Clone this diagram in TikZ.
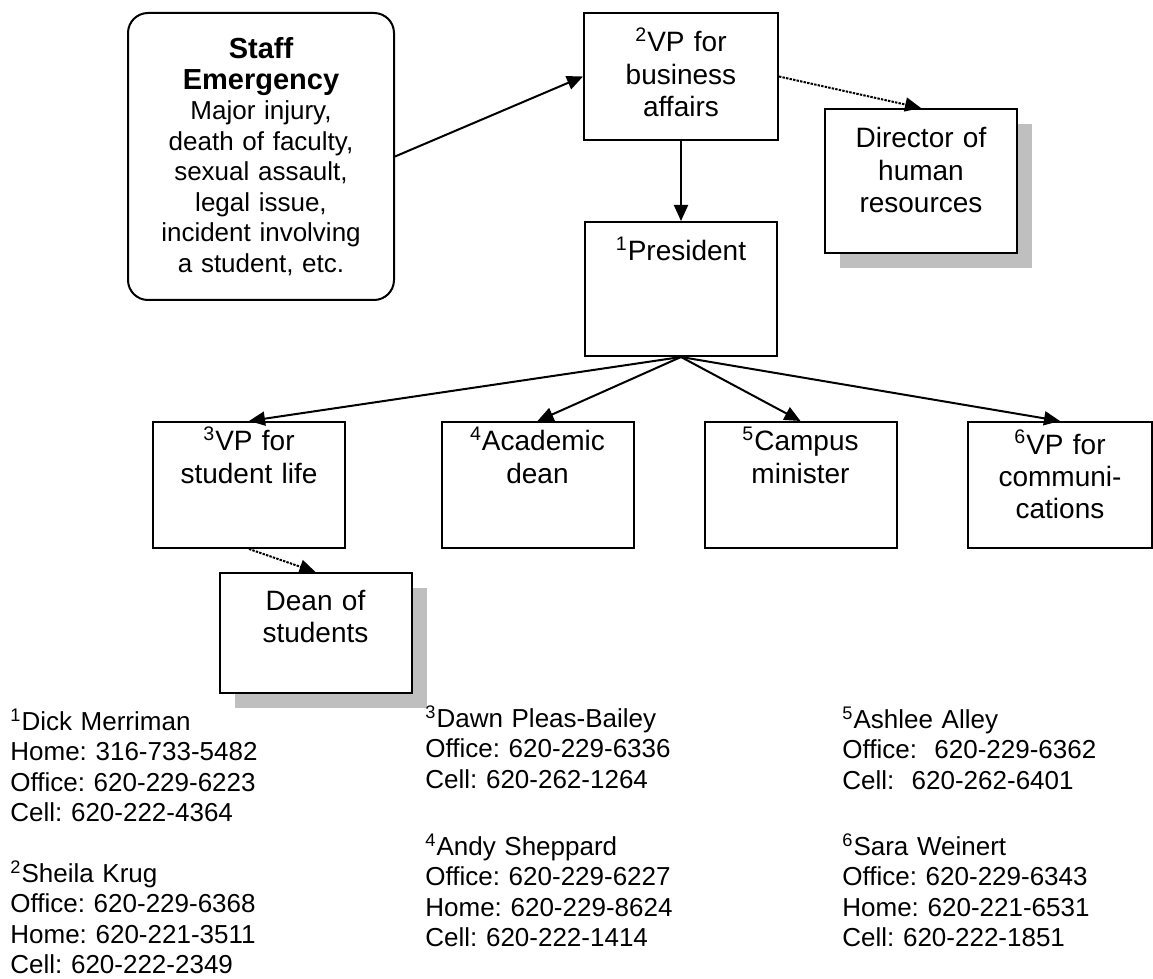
\documentclass[tikz,border=0pt]{standalone}
\usepackage{fontspec}
\setmainfont{Liberation Sans}
\usetikzlibrary{arrows.meta,shadows}
\frenchspacing
\newcommand{\boxfont}{\fontsize{14pt}{16.2pt}\selectfont}
\newcommand{\listfont}{\fontsize{13pt}{15.25pt}\selectfont}
\newcommand{\headfont}{\fontsize{14.5pt}{16pt}\selectfont\bfseries}
\newcommand{\supnum}[1]{\textsuperscript{#1}}
\begin{document}
\begin{tikzpicture}[x=0.5pt, y=-0.5pt,
  post/.style={draw, line width=1pt, fill=white, inner sep=0pt, align=center, text width=96pt, font=\boxfont, text height=19.5pt},
  call/.style={draw, line width=1pt, rounded corners=10pt, inner sep=0pt, align=center, text width=133pt, minimum height=143.5pt, font=\listfont},
  shade/.style={drop shadow={shadow xshift=7.5pt, shadow yshift=-7.5pt, fill=black!25, opacity=1}},
  who/.style={anchor=base west, inner sep=0pt, align=left, text width=200pt, font=\listfont},
  arr/.style={-{Triangle[length=8pt,width=7pt]}, line width=1pt},
  dotarr/.style={arr, dash pattern=on 1.2pt off 0.6pt}]
\useasboundingbox (0,0) rectangle (1153,979);
\node[call] (staff) at (261,156.5) {{\headfont Staff}\\{\headfont Emergency}\\Major injury,\\death of faculty,\\sexual assault,\\legal issue,\\incident involving\\a student, etc.};
\node[post, text width=97pt, text depth=44pt] (biz) at (681,76.5) {\supnum{2}VP for\\business\\affairs};
\node[post, shade, text depth=52.5pt] (hr) at (921,181) {Director of\\human\\resources};
\node[post, text depth=47.5pt] (pres) at (681,289) {\supnum{1}President};
\node[post, text height=14.5pt, text depth=48.5pt] (stu) at (249,485) {\supnum{3}VP for\\student life};
\node[post, text height=14.5pt, text depth=48.5pt] (acad) at (537.5,485) {\supnum{4}Academic\\dean};
\node[post, text height=14.5pt, text depth=48.5pt] (camp) at (800.5,485) {\supnum{5}Campus\\minister};
\node[post, text width=92pt, text height=16pt, text depth=47pt] (comm) at (1060,485) {\supnum{6}VP for\\communi-\\cations};
\node[post, shade, text height=18.5pt, text depth=41.5pt] (dean) at (315.5,633) {Dean of\\students};
\draw[arr] (staff.east) -- (biz.west);
\draw[arr] (biz.south) -- (pres.north);
\draw[dotarr] (biz.east) -- (hr.north);
\draw[arr] (pres.south) -- (stu.north);
\draw[arr] (pres.south) -- (acad.north);
\draw[arr] (pres.south) -- (camp.north);
\draw[arr] (pres.south) -- (comm.north);
\draw[dotarr] (stu.south) -- (dean.north);
\node[who] (merriman) at (10,730) {\supnum{1}Dick Merriman\\Home: 316-733-5482\\Office: 620-229-6223\\Cell: 620-222-4364};
\node[who] (krug) at (10,882) {\supnum{2}Sheila Krug\\Office: 620-229-6368\\Home: 620-221-3511\\Cell: 620-222-2349};
\node[who] (bailey) at (425,727) {\supnum{3}Dawn Pleas-Bailey\\Office: 620-229-6336\\Cell: 620-262-1264};
\node[who] (sheppard) at (425,855) {\supnum{4}Andy Sheppard\\Office: 620-229-6227\\Home: 620-229-8624\\Cell: 620-222-1414};
\node[who] (alley) at (842,728) {\supnum{5}Ashlee Alley\\Office:~ 620-229-6362\\Cell:~ 620-262-6401};
\node[who] (weinert) at (842,855) {\supnum{6}Sara Weinert\\Office: 620-229-6343\\Home: 620-221-6531\\Cell: 620-222-1851};
\end{tikzpicture}
\end{document}
